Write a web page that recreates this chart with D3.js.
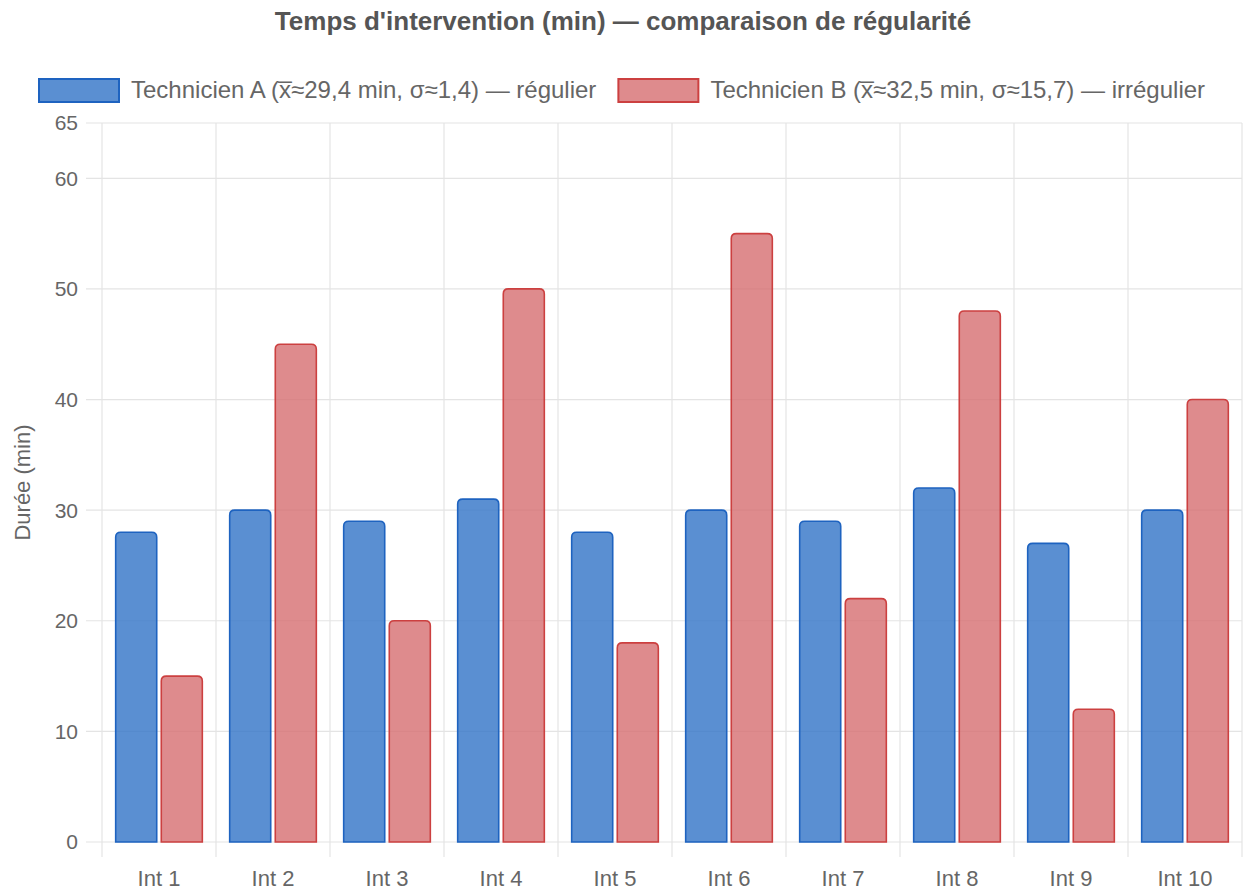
<!DOCTYPE html>
<html>
<head>
<meta charset="utf-8">
<script src="https://cdn.jsdelivr.net/npm/d3@7"></script>
<style>
  body { margin: 0; background: #fff; }
  text { font-family: "Liberation Sans", Arial, Helvetica, sans-serif; }
</style>
</head>
<body>
<div id="chart"></div>
<script>
// data
var categories = ["Int 1", "Int 2", "Int 3", "Int 4", "Int 5", "Int 6", "Int 7", "Int 8", "Int 9", "Int 10"];
var techA = [28, 30, 29, 31, 28, 30, 29, 32, 27, 30];
var techB = [15, 45, 20, 50, 18, 55, 22, 48, 12, 40];
var seriesNames = [
  "Technicien A (x\u0305\u224829,4 min, \u03c3\u22481,4) \u2014 r\u00e9gulier",
  "Technicien B (x\u0305\u224832,5 min, \u03c3\u224815,7) \u2014 irr\u00e9gulier"
];
var yTicks = [0, 10, 20, 30, 40, 50, 60, 65];
var title = "Temps d'intervention (min) \u2014 comparaison de r\u00e9gularit\u00e9";
var yLabel = "Dur\u00e9e (min)";

var fills = ["rgba(54,118,200,0.82)", "rgba(214,110,112,0.8)"];
var strokes = ["#1e63c0", "#cc4040"];

// dimensions
var W = 1244, H = 890;
var margin = { top: 123, right: 2, bottom: 48, left: 102 };
var width = W - margin.left - margin.right;
var height = H - margin.top - margin.bottom;

var svg = d3.select("#chart")
  .append("svg")
  .attr("width", W)
  .attr("height", H);

// title
svg.append("text")
  .attr("x", 623)
  .attr("y", 30)
  .attr("text-anchor", "middle")
  .style("font-size", "26px")
  .style("font-weight", "bold")
  .style("fill", "#555")
  .text(title);

// legend
var legend = svg.append("g");
var lx = 38;
seriesNames.forEach(function (name, i) {
  legend.append("rect")
    .attr("x", lx + 1)
    .attr("y", 79)
    .attr("width", 80)
    .attr("height", 23)
    .attr("fill", fills[i])
    .attr("stroke", strokes[i])
    .attr("stroke-width", 2);
  var t = legend.append("text")
    .attr("x", lx + 93)
    .attr("y", 98)
    .style("font-size", "24px")
    .style("fill", "#666")
    .text(name);
  lx = lx + 93 + t.node().getComputedTextLength() + 21;
});

var g = svg.append("g")
  .attr("transform", "translate(" + margin.left + "," + margin.top + ")");

// scales
var x = d3.scaleBand()
  .domain(categories)
  .range([0, width]);

var y = d3.scaleLinear()
  .domain([0, 65])
  .range([height, 0]);

// horizontal grid + ticks
g.selectAll(".hgrid")
  .data(yTicks)
  .enter()
  .append("line")
  .attr("x1", -16)
  .attr("x2", width)
  .attr("y1", function (d) { return y(d); })
  .attr("y2", function (d) { return y(d); })
  .attr("stroke", "#e4e4e4")
  .attr("stroke-width", 1.2);

// vertical grid lines (category boundaries)
var bounds = categories.map(function (c) { return x(c); }).concat([width]);
g.selectAll(".vgrid")
  .data(bounds)
  .enter()
  .append("line")
  .attr("x1", function (d) { return d; })
  .attr("x2", function (d) { return d; })
  .attr("y1", 0)
  .attr("y2", height + 15)
  .attr("stroke", "#e4e4e4")
  .attr("stroke-width", 1.2);

// y tick labels
g.selectAll(".ylab")
  .data(yTicks)
  .enter()
  .append("text")
  .attr("x", -24)
  .attr("y", function (d) { return y(d); })
  .attr("dy", "0.35em")
  .attr("text-anchor", "end")
  .style("font-size", "21px")
  .style("fill", "#666")
  .text(function (d) { return d; });

// x tick labels
g.selectAll(".xlab")
  .data(categories)
  .enter()
  .append("text")
  .attr("x", function (d) { return x(d) + x.bandwidth() / 2; })
  .attr("y", height + 44)
  .attr("text-anchor", "middle")
  .style("font-size", "22px")
  .style("fill", "#666")
  .text(function (d) { return d; });

// y axis title
g.append("text")
  .attr("transform", "translate(" + (-72) + "," + (height / 2) + ") rotate(-90)")
  .attr("text-anchor", "middle")
  .style("font-size", "22px")
  .style("fill", "#666")
  .text(yLabel);

// rounded-top bar path
function barPath(x0, y0, w, h, r) {
  r = Math.min(r, h, w / 2);
  return "M" + x0 + "," + (y0 + h) +
    "V" + (y0 + r) +
    "Q" + x0 + "," + y0 + " " + (x0 + r) + "," + y0 +
    "H" + (x0 + w - r) +
    "Q" + (x0 + w) + "," + y0 + " " + (x0 + w) + "," + (y0 + r) +
    "V" + (y0 + h) + "Z";
}

// bars
[techA, techB].forEach(function (vals, si) {
  g.selectAll(".bar" + si)
    .data(vals)
    .enter()
    .append("path")
    .attr("fill", fills[si])
    .attr("stroke", strokes[si])
    .attr("stroke-width", 1.6)
    .attr("d", function (d, i) {
      var bw = x.bandwidth() * 0.4 * 0.9;
      var cx = x(categories[i]) + x.bandwidth() * 0.1 + x.bandwidth() * 0.4 * (si + 0.5);
      return barPath(cx - bw / 2, y(d), bw, y(0) - y(d), 5);
    });
});
</script>
</body>
</html>
